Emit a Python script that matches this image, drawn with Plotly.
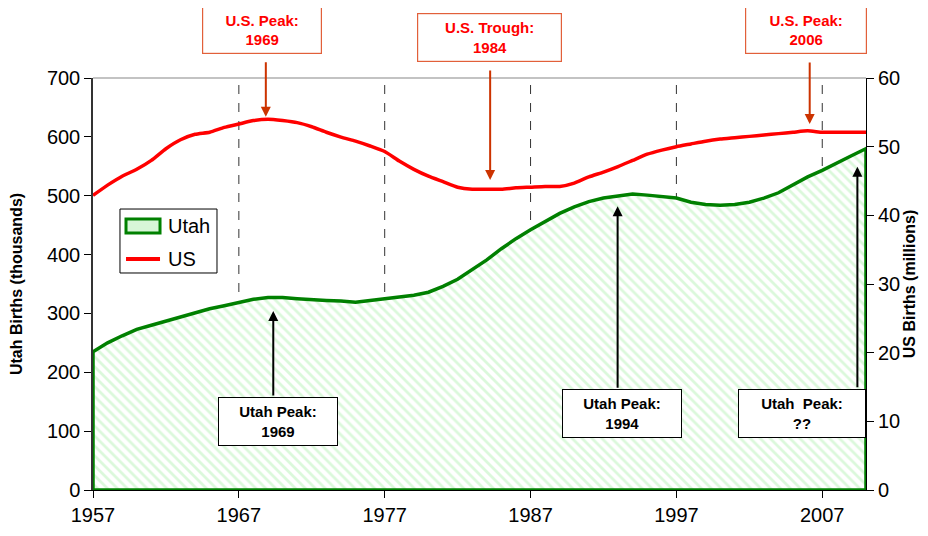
import plotly.graph_objects as go

years = list(range(1957, 2011))

utah_births = [235, 250, 262, 273, 280, 287, 295, 302, 308, 313,
               319, 324, 327, 327, 325, 323, 322, 321, 319, 322,
               325, 328, 331, 336, 346, 358, 374, 391, 410, 427,
               442, 456, 470, 481, 490, 496, 500, 503, 501, 499,
               496, 489, 485, 484, 485, 489, 496, 505, 518, 532,
               543, 556, 568, 580]

us_births = [42.9, 44.4, 45.7, 46.7, 48.0, 49.7, 51.0, 51.8, 52.1, 52.8,
             53.3, 53.8, 54.0, 53.8, 53.5, 52.9, 52.1, 51.4, 50.8, 50.1,
             49.3, 47.9, 46.7, 45.7, 44.9, 44.1, 43.8, 43.8, 43.8, 44.0,
             44.1, 44.2, 44.2, 44.7, 45.6, 46.3, 47.1, 48.0, 48.9, 49.5,
             50.0, 50.4, 50.8, 51.1, 51.3, 51.5, 51.7, 51.9, 52.1, 52.3,
             52.1, 52.1, 52.1, 52.1]

x_ticks = [1957, 1967, 1977, 1987, 1997, 2007]
left_ticks = list(range(0, 701, 100))
right_ticks = list(range(0, 61, 10))

FONT = "Liberation Sans, Arial, sans-serif"
GREEN = "#008000"
RED = "#ff0000"

fig = go.Figure()

# Utah area (closed polygon down to zero baseline)
fig.add_trace(go.Scatter(
    x=years + [years[-1], years[0], years[0]],
    y=utah_births + [0, 0, utah_births[0]],
    mode="lines",
    name="Utah",
    fill="toself",
    fillcolor="white",
    fillpattern=dict(shape="\\", fgcolor="#b8f2b8", bgcolor="white",
                     size=7, solidity=0.4),
    line=dict(color=GREEN, width=3.5),
    showlegend=False,
    yaxis="y",
))

fig.add_trace(go.Scatter(
    x=years, y=us_births, mode="lines", name="US",
    line=dict(color=RED, width=3.5, shape="spline", smoothing=0.5),
    showlegend=False,
    yaxis="y2",
))

shapes = []
for xv in x_ticks[1:]:
    shapes.append(dict(type="line", xref="x", yref="y", x0=xv, x1=xv, y0=0, y1=700,
                       line=dict(color="#333333", width=1, dash="dash"), layer="below"))
shapes.append(dict(type="line", xref="paper", yref="paper", x0=0, x1=1, y0=1, y1=1,
                   line=dict(color="#888888", width=1.2)))

# custom legend
shapes.append(dict(type="rect", xref="paper", yref="paper", x0=0.0349, x1=0.1604,
                   y0=0.5267, y1=0.682, line=dict(color="black", width=1),
                   fillcolor="white"))
shapes.append(dict(type="rect", xref="paper", yref="paper", x0=0.0427, x1=0.0867,
                   y0=0.6238, y1=0.6578, line=dict(color=GREEN, width=3),
                   fillcolor="#d8f6d8"))
shapes.append(dict(type="line", xref="paper", yref="paper", x0=0.0427, x1=0.0867,
                   y0=0.5607, y1=0.5607, line=dict(color=RED, width=4)))

annotations = []
for text, yp in [("Utah", 0.6408), ("US", 0.5607)]:
    annotations.append(dict(text=text, xref="paper", yref="paper", x=0.094, y=yp,
                            xanchor="left", yanchor="middle", showarrow=False,
                            font=dict(family=FONT, size=20, color="black")))

# top red boxes
for text, xp, yp, w, h in [
    ("U.S. Peak:<br>1969", 0.2186, 1.1165, 118, 46),
    ("U.S. Trough:<br>1984", 0.5129, 1.0983, 143, 47),
    ("U.S. Peak:<br>2006", 0.9224, 1.1165, 120, 46),
]:
    annotations.append(dict(text="<b>" + text + "</b>", xref="paper", yref="paper",
                            x=xp, y=yp, xanchor="center", yanchor="middle",
                            showarrow=False, width=w, height=h, borderpad=0,
                            bordercolor="#e2603a", borderwidth=1.2, bgcolor="white",
                            font=dict(family=FONT, size=15, color="#ff0000")))
# bottom black boxes
for text, xp, yp, w, h in [
    ("Utah Peak:<br>1969", 0.2393, 0.1663, 118, 47),
    ("Utah Peak:<br>1994", 0.6843, 0.1857, 118, 47),
    ("Utah&nbsp; Peak:<br>??", 0.9172, 0.1857, 126, 47),
]:
    annotations.append(dict(text="<b>" + text + "</b>",
                            xref="paper", yref="paper",
                            x=xp, y=yp, xanchor="center", yanchor="middle",
                            showarrow=False, width=w, height=h, borderpad=0,
                            bordercolor="#000000", borderwidth=1, bgcolor="white",
                            font=dict(family=FONT, size=15, color="#000000")))

# red arrows to US curve
for xv, yv, ay in [(1968.85, 54.36, -56), (1984.23, 45.15, -111), (2006.14, 53.3, -63)]:
    annotations.append(dict(text="", xref="x", yref="y2", x=xv, y=yv, ax=0, ay=ay,
                            showarrow=True, arrowhead=2, arrowsize=1, arrowwidth=2,
                            arrowcolor="#cc3300", standoff=0))
# black arrows to Utah curve
for xv, yv, ay in [(1969.36, 304, 86), (1992.97, 482, 183), (2009.41, 549, 222)]:
    annotations.append(dict(text="", xref="x", yref="y", x=xv, y=yv, ax=0, ay=ay,
                            showarrow=True, arrowhead=2, arrowsize=1, arrowwidth=2,
                            arrowcolor="#000000", standoff=0))

fig.update_layout(
    width=920, height=528,
    margin=dict(l=85, r=62, t=70, b=46),
    paper_bgcolor="white", plot_bgcolor="white",
    font=dict(family=FONT, color="black"),
    showlegend=False,
    xaxis=dict(range=[1957, 2010], tickvals=x_ticks, ticks="outside", ticklen=7,
               tickcolor="black", showline=True, linecolor="black", linewidth=1,
               showgrid=False, zeroline=False, automargin=False,
               tickfont=dict(family=FONT, size=20)),
    yaxis=dict(range=[0, 700], tickvals=left_ticks, ticks="outside", ticklen=7,
               tickcolor="black", showline=True, linecolor="#333333", linewidth=1.5,
               showgrid=False, zeroline=False, automargin=False,
               tickfont=dict(family=FONT, size=20),
               title=dict(text="<b>Utah Births (thousands)</b>",
                          font=dict(family=FONT, size=16), standoff=23)),
    yaxis2=dict(range=[0, 60], tickvals=right_ticks, overlaying="y", side="right",
                ticks="outside", ticklen=7, tickcolor="black",
                showline=True, linecolor="black", linewidth=1,
                showgrid=False, zeroline=False, automargin=False,
                tickfont=dict(family=FONT, size=20),
                title=dict(text="<b>US Births (millions)</b>",
                           font=dict(family=FONT, size=16), standoff=4)),
    shapes=shapes,
    annotations=annotations,
)

fig.write_html("out.html")
